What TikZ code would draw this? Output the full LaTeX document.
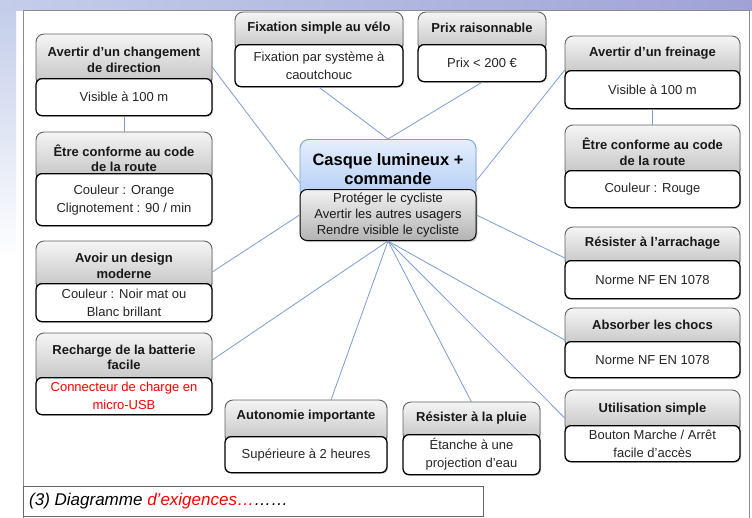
\documentclass[tikz,border=0pt]{standalone}
\usepackage{fontspec}
\setmainfont{Liberation Sans}
\usetikzlibrary{shadows}
\definecolor{conn}{RGB}{122,158,208}
\definecolor{cenborder}{RGB}{120,160,215}
\definecolor{centop}{RGB}{228,238,252}
\definecolor{cenbot}{RGB}{178,204,245}
\definecolor{bgA}{RGB}{196,206,234}
\definecolor{bgB}{RGB}{160,162,214}
\begin{document}
\begin{tikzpicture}[x=1pt,y=-1pt,
  hdr/.style={draw=black!62, line width=0.9pt, rounded corners=8pt, top color=black!4, bottom color=black!24,
    drop shadow={shadow xshift=1pt,shadow yshift=-1pt,opacity=0.25}},
  htxt/.style={inner sep=0pt, align=center, font=\bfseries\fontsize{13}{15.5}\selectfont, text=black!90},
  body/.style={draw=black, line width=1.3pt, rounded corners=6pt, fill=white, inner sep=0pt, align=center,
    font=\fontsize{13}{18}\selectfont, text=black!85,
    drop shadow={shadow xshift=1.2pt,shadow yshift=-1.2pt,opacity=0.3}},
  link/.style={draw=conn, line width=0.8pt}
]
\useasboundingbox (0,0) rectangle (752,517);
% background
\fill[white] (0,0) rectangle (752,517);
\shade[left color=bgA, right color=bgB] (0,0) rectangle (752,10);
\shade[top color=bgA, bottom color=white] (0,10) rectangle (16,260);
\draw[black!45, line width=0.7pt] (23,10) rectangle (749,522);

% B1 Avertir d'un changement de direction
\path[hdr] (36,34) rectangle (212,86);
\node[htxt, minimum width=176pt] (b1h) at (124,60) {Avertir d’un changement\\de direction};
\node[body, minimum width=176pt, minimum height=37pt, anchor=north] (b1b) at (124,78) {Visible à 100 m};

% B2 Etre conforme (left)
\path[hdr] (36,132) rectangle (212,181);
\node[htxt, minimum width=176pt] (b2h) at (124,158) {Être conforme au code\\de la route};
\node[body, minimum width=176pt, minimum height=52pt, anchor=north] (b2b) at (124,173) {Couleur : Orange\\Clignotement : 90 / min};

% B3 Avoir un design moderne
\path[hdr] (36,241) rectangle (212,291);
\node[htxt, minimum width=176pt] (b3h) at (124,266) {Avoir un design\\moderne};
\node[body, minimum width=176pt, minimum height=38pt, anchor=north] (b3b) at (124,283) {Couleur : Noir mat ou\\Blanc brillant};

% B4 Recharge
\path[hdr] (36,333) rectangle (212,385);
\node[htxt, minimum width=176pt] (b4h) at (124,357.5) {Recharge de la batterie\\facile};
\node[body, minimum width=176pt, minimum height=37pt, anchor=north, text=red] (b4b) at (124,377) {Connecteur de charge en\\micro-USB};

% B5 Fixation
\path[hdr] (235,12) rectangle (403,52);
\node[htxt, minimum width=168pt] (b5h) at (319,28) {Fixation simple au vélo};
\node[body, minimum width=168pt, minimum height=42pt, anchor=north] (b5b) at (319,44) {Fixation par système à\\caoutchouc};

% B6 Prix
\path[hdr] (418,12) rectangle (546,52);
\node[htxt, minimum width=128pt] (b6h) at (482,28) {Prix raisonnable};
\node[body, minimum width=128pt, minimum height=37pt, anchor=north] (b6b) at (482,44) {Prix < 200 €};

% B7 Freinage
\path[hdr] (565,36) rectangle (740,78);
\node[htxt, minimum width=175pt] (b7h) at (652.5,53) {Avertir d’un freinage};
\node[body, minimum width=175pt, minimum height=38pt, anchor=north] (b7b) at (652.5,70) {Visible à 100 m};

% B8 Etre conforme (right)
\path[hdr] (565,125) rectangle (740,178);
\node[htxt, minimum width=175pt] (b8h) at (652.5,151.5) {Être conforme au code\\de la route};
\node[body, minimum width=175pt, minimum height=37pt, anchor=north] (b8b) at (652.5,170) {Couleur : Rouge};

% B9 Arrachage
\path[hdr] (565,227) rectangle (740,268);
\node[htxt, minimum width=175pt] (b9h) at (652.5,243) {Résister à l’arrachage};
\node[body, minimum width=175pt, minimum height=38pt, anchor=north] (b9b) at (652.5,260) {Norme NF EN 1078};

% B10 Chocs
\path[hdr] (565,308) rectangle (740,349);
\node[htxt, minimum width=175pt] (b10h) at (652.5,325) {Absorber les chocs};
\node[body, minimum width=175pt, minimum height=36pt, anchor=north] (b10b) at (652.5,341) {Norme NF EN 1078};

% B11 Utilisation
\path[hdr] (565,390) rectangle (740,433);
\node[htxt, minimum width=175pt] (b11h) at (652.5,409) {Utilisation simple};
\node[body, minimum width=175pt, minimum height=36pt, anchor=north] (b11b) at (652.5,425) {Bouton Marche / Arrêt\\facile d’accès};

% B12 Autonomie
\path[hdr] (225,400) rectangle (387,444);
\node[htxt, minimum width=162pt] (b12h) at (306,416) {Autonomie importante};
\node[body, minimum width=162pt, minimum height=36pt, anchor=north] (b12b) at (306,436) {Supérieure à 2 heures};

% B13 Pluie
\path[hdr] (403,402) rectangle (540,442);
\node[htxt, minimum width=137pt] (b13h) at (471.5,418) {Résister à la pluie};
\node[body, minimum width=137pt, minimum height=40pt, anchor=north] (b13b) at (471.5,434) {Étanche à une\\projection d’eau};

% Center
\node[draw=cenborder, line width=0.9pt, rounded corners=9pt, top color=centop, bottom color=cenbot,
      minimum width=176pt, minimum height=60pt, anchor=north, inner sep=0pt, align=center,
      font=\bfseries\fontsize{16.5}{19}\selectfont,
      drop shadow={shadow xshift=1pt,shadow yshift=-1pt,opacity=0.2}] (ch) at (388,139) {Casque lumineux +\\commande};
\node[draw=black, line width=1pt, rounded corners=7pt, top color=black!5, bottom color=black!30,
      minimum width=176pt, minimum height=51pt, anchor=north, inner sep=0pt, align=center,
      font=\fontsize{13}{16}\selectfont, text=black!90,
      drop shadow={shadow xshift=1.5pt,shadow yshift=-1.5pt,opacity=0.35}] (cb) at (388,189)
      {Protéger le cycliste\\Avertir les autres usagers\\Rendre visible le cycliste};

% connectors
\draw[link] ([yshift=-13pt]ch.west) -- ([yshift=-7pt]b1h.east);
\draw[link] (ch.north) -- (b5b.south);
\draw[link] (ch.north) -- (b6b.south);
\draw[link] ([yshift=-11pt]ch.east) -- ([yshift=-17pt]b7h.west);
\draw[link] (cb.west) -- ([yshift=-6pt]b3h.east);
\draw[link] (cb.south) -- ([yshift=-2.5pt]b4h.east);
\draw[link] (cb.south) -- ([xshift=25pt,yshift=16pt]b12h.center);
\draw[link] (cb.south) -- ([yshift=16pt]b13h.center);
\draw[link] (cb.south) -- ([yshift=-9pt]b11h.west);
\draw[link] (cb.south) -- ([yshift=-15pt]b10h.west);
\draw[link] (cb.east) -- ([yshift=-15pt]b9h.west);
\draw[link] (b1b.south) -- ([yshift=26pt]b2h.center);
\draw[link] (b7b.south) -- ([yshift=26.5pt]b8h.center);

% caption
\draw[black!60, line width=0.7pt, fill=white] (23,486) rectangle (483,516);
\node[anchor=west, inner sep=0pt, font=\itshape\fontsize{17}{20}\selectfont] (cap) at (29,501)
  {(3) Diagramme \textcolor{red}{d’exigences…}……};
\end{tikzpicture}
\end{document}
